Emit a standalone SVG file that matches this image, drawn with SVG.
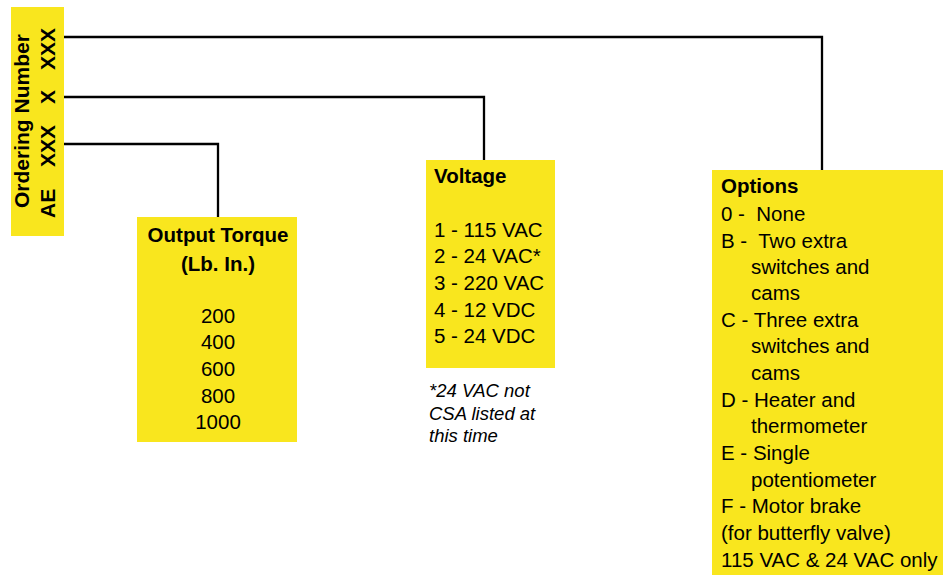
<svg xmlns="http://www.w3.org/2000/svg" width="943" height="575" viewBox="0 0 943 575">
<style>
.box{fill:#F9E61E}
.b{font-family:"Liberation Sans",Arial,sans-serif;font-weight:bold;fill:#000}
.t{font-family:"Liberation Sans",Arial,sans-serif;font-size:20.5px;fill:#000}
.i{font-family:"Liberation Sans",Arial,sans-serif;font-size:18.5px;font-style:italic;fill:#000}
.conn{fill:none;stroke:#000;stroke-width:2.3}
</style>
<rect width="943" height="575" fill="#fff"/>
<g id="connectors">
<polyline class="conn" points="64,37 822,37 822,170"/>
<polyline class="conn" points="64,97 484,97 484,160"/>
<polyline class="conn" points="64,144 218,144 218,217"/>
</g>
<g id="ordering-number">
<rect class="box" x="11" y="7" width="53" height="229"/>
<g transform="translate(29,236) rotate(-90)">
<text class="b" x="28" y="0" font-size="21">Ordering Number</text>
</g>
<g transform="translate(55,236) rotate(-90)">
<text class="b" x="18" y="0" font-size="21">AE</text>
<text class="b" x="69" y="0" font-size="21">XXX</text>
<text class="b" x="132" y="0" font-size="21">X</text>
<text class="b" x="166" y="0" font-size="21">XXX</text>
</g>
</g>
<g id="output-torque">
<rect class="box" x="137" y="217" width="160" height="225"/>
<text class="b" x="218" y="242" font-size="20.5" text-anchor="middle">Output Torque</text>
<text class="b" x="218" y="271" font-size="20.5" text-anchor="middle">(Lb. In.)</text>
<text class="t" x="218" y="323" text-anchor="middle">200</text>
<text class="t" x="218" y="349" text-anchor="middle">400</text>
<text class="t" x="218" y="376" text-anchor="middle">600</text>
<text class="t" x="218" y="403" text-anchor="middle">800</text>
<text class="t" x="218" y="429" text-anchor="middle">1000</text>
</g>
<g id="voltage">
<rect class="box" x="426" y="160" width="129" height="208"/>
<text class="b" x="434" y="183" font-size="20.5">Voltage</text>
<text class="t" x="434" y="237">1 - 115 VAC</text>
<text class="t" x="434" y="263">2 - 24 VAC*</text>
<text class="t" x="434" y="290">3 - 220 VAC</text>
<text class="t" x="434" y="317">4 - 12 VDC</text>
<text class="t" x="434" y="343">5 - 24 VDC</text>
</g>
<g id="footnote">
<text class="i" x="429" y="397">*24 VAC not</text>
<text class="i" x="429" y="420">CSA listed at</text>
<text class="i" x="429" y="442">this time</text>
</g>
<g id="options">
<rect class="box" x="712" y="170" width="231" height="405"/>
<text class="b" x="721" y="193" font-size="20.5">Options</text>
<text class="t" x="721" y="221" xml:space="preserve">0 -  None</text>
<text class="t" x="721" y="248" xml:space="preserve">B -  Two extra</text>
<text class="t" x="751" y="274">switches and</text>
<text class="t" x="751" y="300">cams</text>
<text class="t" x="721" y="327">C - Three extra</text>
<text class="t" x="751" y="353">switches and</text>
<text class="t" x="751" y="380">cams</text>
<text class="t" x="721" y="407">D - Heater and</text>
<text class="t" x="751" y="433">thermometer</text>
<text class="t" x="721" y="460">E - Single</text>
<text class="t" x="751" y="487">potentiometer</text>
<text class="t" x="721" y="513">F - Motor brake</text>
<text class="t" x="721" y="540">(for butterfly valve)</text>
<text class="t" x="721" y="567">115 VAC &amp; 24 VAC only</text>
</g>
</svg>
